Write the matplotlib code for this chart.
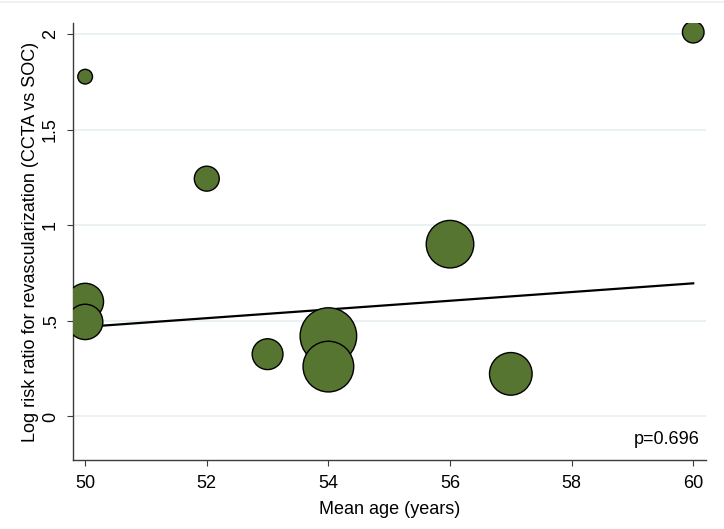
import matplotlib.pyplot as plt
import numpy as np

# study-level data
mean_age = [50, 52, 60, 50, 50, 53, 54, 54, 56, 57]
log_rr = [1.779, 1.245, 2.012, 0.601, 0.495, 0.326, 0.421, 0.261, 0.902, 0.223]
weight = [56, 161, 121, 350, 324, 246, 829, 666, 586, 471]

# meta-regression fit line
fit_age = [50, 60]
fit_lrr = [0.469, 0.697]

x_ticks = [50, 52, 54, 56, 58, 60]
y_ticks = [0, 0.5, 1, 1.5, 2]
y_labels = ["0", ".5", "1", "1.5", "2"]
p_text = "p=0.696"

GREEN, GRID, SPINE = "#557530", "#eaf1f3", "#3c3c3c"
plt.rcParams["font.family"] = ["Liberation Sans", "DejaVu Sans"]

fig = plt.figure(figsize=(7.24, 5.29), dpi=100, facecolor="white")
ax = fig.add_axes([73 / 724, 1 - 460 / 529, 633 / 724, 437 / 529])

for y in y_ticks:
    ax.axhline(y, color=GRID, lw=1.4, zorder=0)

sizes = np.array(weight) * 2.0
ax.scatter(mean_age, log_rr, s=sizes, color=GREEN, edgecolor="black",
           linewidth=1.0, zorder=3)
ax.plot(fit_age, fit_lrr, color="black", lw=1.6, zorder=2)

ax.set_xlim(49.8, 60.21)
ax.set_ylim(-0.228, 2.06)
ax.set_xticks(x_ticks)
ax.set_yticks(y_ticks, y_labels)
ax.tick_params(axis="both", length=4, color=SPINE, labelsize=13)
ax.tick_params(axis="x", pad=7)
ax.tick_params(axis="y", pad=6)
for lab in ax.get_yticklabels():
    lab.set_rotation(90)
    lab.set_va("center")
ax.set_xlabel("Mean age (years)", fontsize=13, labelpad=6)
ax.set_ylabel("Log risk ratio for revascularization (CCTA vs SOC)", fontsize=13, labelpad=2)

for side in ["top", "right"]:
    ax.spines[side].set_visible(False)
for side in ["left", "bottom"]:
    ax.spines[side].set_color(SPINE)
    ax.spines[side].set_linewidth(1.0)

ax.text(0.99, 0.046, p_text, transform=ax.transAxes, ha="right", va="center",
        fontsize=13)

fig.add_artist(plt.Line2D([0, 1], [1 - 2 / 529, 1 - 2 / 529], color=GRID, lw=1.2,
                          transform=fig.transFigure))

fig.savefig("out.png", dpi=100, facecolor="white")
